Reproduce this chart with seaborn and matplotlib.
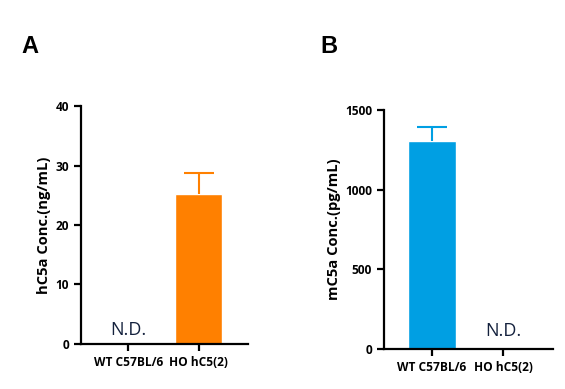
import numpy as np
import pandas as pd
import matplotlib
matplotlib.use("Agg")
import matplotlib.pyplot as plt
import seaborn as sns

# données
groups = ["WT C57BL/6", "HO hC5(2)"]
hc5a_mean = [0.0, 25.2]
hc5a_sd = [0.0, 3.6]
mc5a_mean = [1305.0, 0.0]
mc5a_sd = [90.0, 0.0]
nd_a = [True, False]
nd_b = [False, True]

orange = "#FF8000"
blue = "#009FE3"
navy = "#14213D"

sns.set_style("ticks")
plt.rcParams["font.family"] = ["Open Sans", "DejaVu Sans"]
plt.rcParams["text.color"] = "black"

fig = plt.figure(figsize=(5.65, 3.89), dpi=100)
ax_a = fig.add_axes([0.1434, 0.1157, 0.2956, 0.6118])
ax_b = fig.add_axes([0.6796, 0.1028, 0.2992, 0.6144])


def panel(ax, means, sds, nd, color, ylim, yticks, ylabel, nd_y):
    df = pd.DataFrame({"group": groups, "value": means})
    sns.barplot(data=df, x="group", y="value", color=color, width=0.67,
                saturation=1, errorbar=None, ax=ax)
    for i, (m, s) in enumerate(zip(means, sds)):
        if s > 0:
            _, caps, _ = ax.errorbar(i, m, yerr=[[0], [s]], color=color, lw=1.5,
                                     capsize=11, capthick=1.5, zorder=1)
            caps[0].set_visible(False)  # pas de barre basse
        if nd[i]:
            ax.text(i, nd_y, "N.D.", ha="center", va="baseline",
                    fontsize=13, color=navy)
    ax.set_ylim(*ylim)
    ax.set_yticks(yticks)
    ax.set_xlim(-0.67, 1.7)
    ax.set_xlabel("")
    ax.set_ylabel(ylabel, fontsize=10.6, fontweight="bold", labelpad=3,
                  color="black")
    sns.despine(ax=ax)
    for sp in ["left", "bottom"]:
        ax.spines[sp].set_linewidth(1.6)
        ax.spines[sp].set_color("black")
    ax.tick_params(width=1.6, length=5, labelsize=8.6, colors="black")
    for lab in ax.get_xticklabels() + ax.get_yticklabels():
        lab.set_fontweight("bold")


panel(ax_a, hc5a_mean, hc5a_sd, nd_a, orange, (0, 40), [0, 10, 20, 30, 40],
      "hC5a Conc.(ng/mL)", 1.5)
panel(ax_b, mc5a_mean, mc5a_sd, nd_b, blue, (0, 1500), [0, 500, 1000, 1500],
      "mC5a Conc.(pg/mL)", 82)

fig.text(0.053, 0.88, "A", fontsize=17, fontweight="bold", ha="center", va="center",
         family="Liberation Sans")
fig.text(0.583, 0.88, "B", fontsize=17, fontweight="bold", ha="center", va="center",
         family="Liberation Sans")

fig.savefig("out.png", dpi=100)
